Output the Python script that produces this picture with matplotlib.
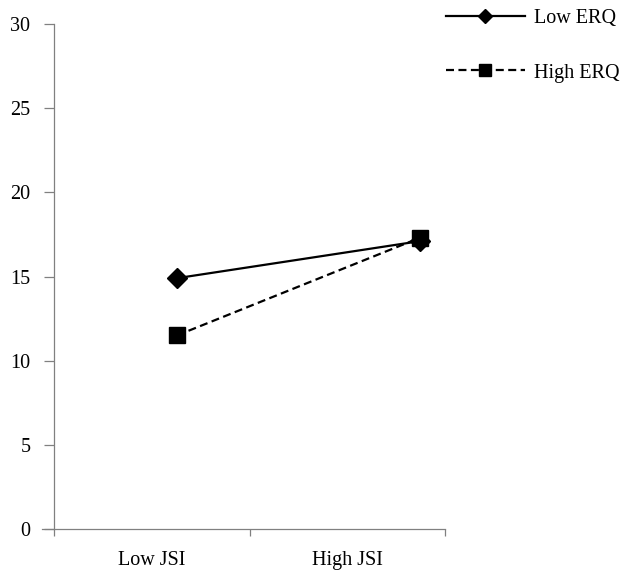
import matplotlib
matplotlib.use("Agg")
import matplotlib.pyplot as plt
from matplotlib.ticker import FixedLocator, NullFormatter, FixedFormatter

# Data
categories = ["Low JSI", "High JSI"]
low_erq = [14.9, 17.1]
high_erq = [11.5, 17.3]
y_ticks = [0, 5, 10, 15, 20, 25, 30]

plt.rcParams['font.family'] = ['Liberation Serif', 'DejaVu Serif']

fig = plt.figure(figsize=(6.35, 5.73), dpi=100)
ax = fig.add_axes([54/635, 1-529/573, (445-54)/635, (529-24)/573])

x = list(range(len(categories)))
ax.plot(x, low_erq, color='black', lw=1.6, marker='D', ms=10, label='Low ERQ', zorder=3)
ax.plot(x, high_erq, color='black', lw=1.6, ls=(0, (3.6, 2)), marker='s', ms=11.5,
        label='High ERQ', zorder=3)

# axis geometry: category points sit at 177px and 420px of a 54..445px axis
ax.set_xlim(-0.506, 1.103)
ax.set_ylim(0, 30)
ax.set_yticks(y_ticks)
ax.set_yticklabels([str(v) for v in y_ticks], fontsize=14.5)

# category boundaries (major ticks, no labels) and label positions (minor ticks)
xmin, xmax = ax.get_xlim()
mid = (xmin + xmax) / 2
ax.xaxis.set_major_locator(FixedLocator([xmin, mid, xmax]))
ax.xaxis.set_major_formatter(NullFormatter())
ax.xaxis.set_minor_locator(FixedLocator([(xmin + mid) / 2, (mid + xmax) / 2]))
ax.xaxis.set_minor_formatter(FixedFormatter(categories))
ax.tick_params(axis='x', which='major', direction='out', length=5, width=0.9, color='#808080')
ax.tick_params(axis='x', which='minor', length=0, pad=16, labelsize=14.5)
ax.tick_params(axis='y', direction='out', length=7, width=0.9, color='#808080', pad=10)

for s in ['top', 'right']:
    ax.spines[s].set_visible(False)
for s in ['left', 'bottom']:
    ax.spines[s].set_color('#808080')
    ax.spines[s].set_linewidth(0.9)
ax.spines['bottom'].set_bounds(xmin - 0.05, xmax)
ax.spines['bottom'].set_clip_on(False)

leg = fig.legend(loc='upper left', bbox_to_anchor=(446/635, 1 - 8.5/573),
                 frameon=False, fontsize=14.5, handlelength=3.9, handletextpad=0.45,
                 labelspacing=1.78, borderpad=0, borderaxespad=0, markerscale=0.75)

fig.savefig("out.png", dpi=100, facecolor='white')
